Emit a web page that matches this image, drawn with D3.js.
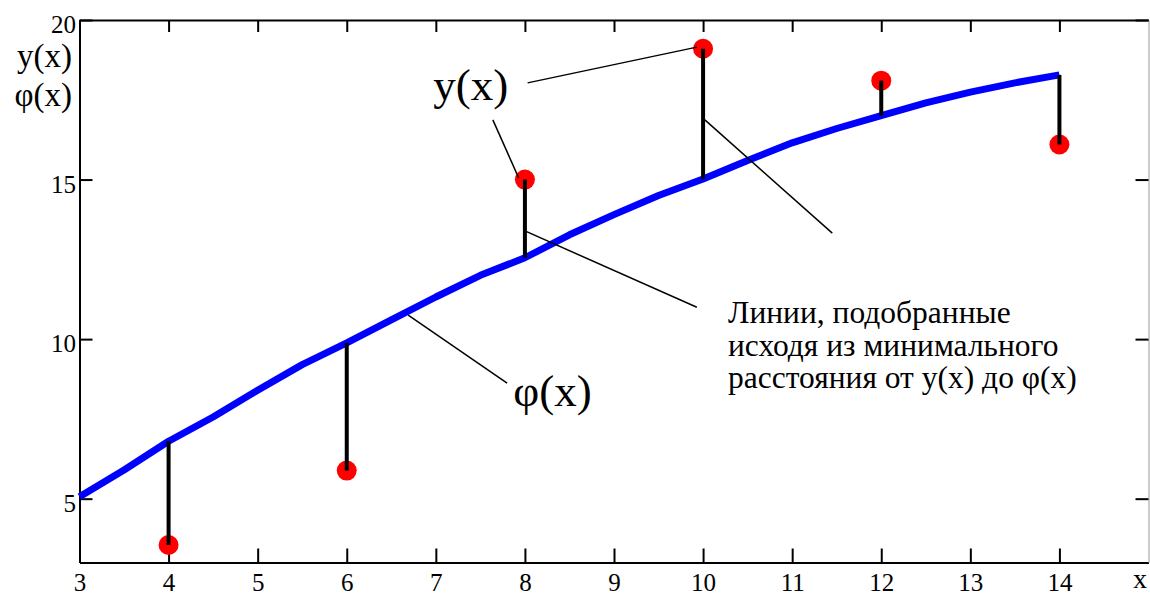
<!DOCTYPE html>
<html>
<head>
<meta charset="utf-8">
<style>
  body { margin: 0; background: #fff; }
  svg { display: block; font-family: "Liberation Serif", "Times New Roman", serif; }
</style>
<script src="https://d3js.org/d3.v7.min.js"></script>
</head>
<body>
<svg id="chart" width="1150" height="595"></svg>
<script>
// measured points y(x)
var pointX = [4, 6, 8, 10, 12, 14];
var pointY = [3.55, 5.88, 15.0, 19.1, 18.1, 16.1];

// fitted curve phi(x), every 0.5
var curveX = [3, 3.5, 4, 4.5, 5, 5.5, 6, 6.5, 7, 7.5, 8, 8.5, 9, 9.5, 10, 10.5, 11, 11.5, 12, 12.5, 13, 13.5, 14];
var curveY = [5.06, 5.9, 6.8, 7.56, 8.4, 9.2, 9.88, 10.6, 11.32, 12.0, 12.55, 13.27, 13.9, 14.5, 15.02, 15.6, 16.15, 16.6, 17.0, 17.4, 17.74, 18.03, 18.28];

var xTicks = [3, 4, 5, 6, 7, 8, 9, 10, 11, 12, 13, 14];
var yTicks = [5, 10, 15, 20];

// annotation leader lines in data units [x1, y1, x2, y2]
var leaders = [
  [8.03, 18.03, 9.93, 19.15],
  [7.64, 16.87, 7.93, 15.05],
  [10.02, 16.87, 11.45, 13.32],
  [8.0, 13.39, 9.93, 11.0],
  [6.69, 10.75, 7.8, 8.62]
];
var noteLines = ["Линии, подобранные", "исходя из минимального", "расстояния от y(x) до φ(x)"];

var serif = "'Liberation Serif', 'Times New Roman', serif";

function draw_chart(){
  var svg = d3.select("#chart");
  var x = d3.scaleLinear().domain([3, 15]).range([79.5, 1148.5]);
  var y = d3.scaleLinear().domain([3, 20]).range([562.5, 20]);

  svg.append("rect").attr("width", 1150).attr("height", 595).attr("fill", "#fff");

  // axes
  var axBottom = svg.append("g").attr("transform", "translate(0," + y(3) + ")")
    .call(d3.axisBottom(x).tickValues(xTicks).tickSize(-14).tickSizeOuter(0).tickPadding(11));
  var axTop = svg.append("g").attr("transform", "translate(0," + y(20) + ")")
    .call(d3.axisTop(x).tickValues(xTicks).tickSize(-12).tickSizeOuter(0).tickFormat(""));
  var axLeft = svg.append("g").attr("transform", "translate(" + x(3) + ",0)")
    .call(d3.axisLeft(y).tickValues(yTicks).tickSize(-13).tickSizeOuter(0).tickPadding(3.5));
  var axRight = svg.append("g").attr("transform", "translate(" + x(15) + ",0)")
    .call(d3.axisRight(y).tickValues(yTicks).tickSize(-13).tickSizeOuter(0).tickFormat(""));

  [axBottom, axTop, axLeft, axRight].forEach(function(g){
    g.attr("font-family", serif);
    g.selectAll("path.domain").attr("stroke", "#000").attr("stroke-width", 2);
    g.selectAll(".tick line").attr("stroke", "#000").attr("stroke-width", 2);
    g.selectAll("text").attr("fill", "#000").style("font-size", "25px")
     .style("font-family", serif);
  });
  axRight.select("path.domain").attr("stroke", "#999").attr("stroke-width", 1);
  axLeft.selectAll("text").attr("dy", "0.5em");
  axBottom.selectAll("text").attr("dy", "0.71em");

  // axis titles
  svg.append("text").attr("x", 72).attr("y", 67).attr("text-anchor", "end")
    .style("font-family", serif).style("font-size", "33px").text("y(x)");
  svg.append("text").attr("x", 72).attr("y", 106).attr("text-anchor", "end")
    .style("font-family", serif).style("font-size", "33px").text("φ(x)");
  svg.append("text").attr("x", 1147).attr("y", 588).attr("text-anchor", "end")
    .style("font-family", serif).style("font-size", "28px").text("x");

  // fitted curve
  var curve = curveX.map(function(d, i){ return [d, curveY[i]]; });
  svg.append("path").datum(curve)
    .attr("fill", "none").attr("stroke", "#0000ff").attr("stroke-width", 7)
    .attr("stroke-linejoin", "round")
    .attr("d", d3.line().x(function(d){ return x(d[0]); }).y(function(d){ return y(d[1]); }));

  // points and residual lines
  var pts = pointX.map(function(d, i){ return {x: d, y: pointY[i], phi: curveY[curveX.indexOf(d)]}; });
  svg.selectAll("circle.pt").data(pts).enter().append("circle")
    .attr("class", "pt")
    .attr("cx", function(d){ return x(d.x); })
    .attr("cy", function(d){ return y(d.y); })
    .attr("r", 10).attr("fill", "#ff0000");
  svg.selectAll("line.res").data(pts).enter().append("line")
    .attr("class", "res")
    .attr("x1", function(d){ return x(d.x); }).attr("x2", function(d){ return x(d.x); })
    .attr("y1", function(d){ return y(d.y); }).attr("y2", function(d){ return y(d.phi); })
    .attr("stroke", "#000").attr("stroke-width", 4);

  // annotations
  svg.selectAll("line.lead").data(leaders).enter().append("line")
    .attr("class", "lead")
    .attr("x1", function(d){ return x(d[0]); }).attr("y1", function(d){ return y(d[1]); })
    .attr("x2", function(d){ return x(d[2]); }).attr("y2", function(d){ return y(d[3]); })
    .attr("stroke", "#000").attr("stroke-width", 1.5);

  svg.append("text").attr("x", x(6.97)).attr("y", y(17.49))
    .style("font-family", serif).style("font-size", "45px").text("y(x)");
  svg.append("text").attr("x", x(7.87)).attr("y", y(7.9))
    .style("font-family", serif).style("font-size", "45px").text("φ(x)");

  var note = svg.append("text").attr("x", x(10.28)).attr("y", y(10.5))
    .style("font-family", serif).style("font-size", "31.5px");
  note.selectAll("tspan").data(noteLines).enter().append("tspan")
    .attr("x", x(10.28)).attr("dy", function(d, i){ return i === 0 ? 0 : 32.5; })
    .text(function(d){ return d; });
}

draw_chart();
</script>
</body>
</html>
